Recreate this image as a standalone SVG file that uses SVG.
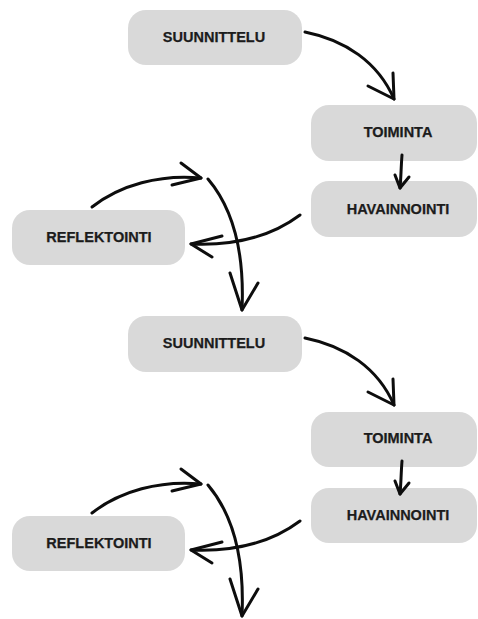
<svg xmlns="http://www.w3.org/2000/svg" width="478" height="619" viewBox="0 0 478 619">
<style>
.box{fill:#d9d9d9}
.lbl{font-family:"Liberation Sans",Arial,sans-serif;font-weight:bold;font-size:14.5px;fill:#1c1c1c;stroke:#1c1c1c;stroke-width:0.25;text-anchor:middle}
.arr{fill:none;stroke:#0d0d0d;stroke-width:3;stroke-linecap:round;stroke-linejoin:round}
</style>
<rect width="478" height="619" fill="#fff"/>
<g id="suunnittelu1"><rect class="box" x="128" y="10" width="174" height="55" rx="18"/><text class="lbl" x="214" y="42">SUUNNITTELU</text></g>
<g id="toiminta1"><rect class="box" x="311" y="105" width="166" height="56" rx="18"/><text class="lbl" x="398" y="137">TOIMINTA</text></g>
<g id="havainnointi1"><rect class="box" x="311" y="181" width="166" height="56" rx="18"/><text class="lbl" x="398" y="214">HAVAINNOINTI</text></g>
<g id="reflektointi1"><rect class="box" x="12" y="210" width="173" height="55" rx="18"/><text class="lbl" x="99" y="242">REFLEKTOINTI</text></g>
<g id="suunnittelu2"><rect class="box" x="128" y="316" width="174" height="56" rx="18"/><text class="lbl" x="214" y="348">SUUNNITTELU</text></g>
<g id="toiminta2"><rect class="box" x="311" y="412" width="166" height="55" rx="18"/><text class="lbl" x="398" y="443">TOIMINTA</text></g>
<g id="havainnointi2"><rect class="box" x="311" y="488" width="166" height="55" rx="18"/><text class="lbl" x="398" y="520">HAVAINNOINTI</text></g>
<g id="reflektointi2"><rect class="box" x="12" y="516" width="173" height="55" rx="18"/><text class="lbl" x="99" y="548">REFLEKTOINTI</text></g>
<g id="connectors" class="arr">
<g id="set1">
<path d="M305,32 C345,40 378,62 394,99"/><path d="M368,86 L394,99 L393,73"/>
<path d="M402,155 C401,168 401,178 400,188"/><path d="M395,175 L400,188 L409,177"/>
<path d="M92,207 C120,185 160,174 201,178"/><path d="M181,163 L201,178 L172,185"/>
<path d="M300,215 C272,236 236,246 191,244"/><path d="M222,236 L191,244 L212,257"/>
<path d="M208,179 C230,205 245,245 242,310"/><path d="M230,273 L242,310 L258,283"/>
</g>
<g id="set2" transform="translate(0,306)">
<path d="M305,32 C345,40 378,62 394,99"/><path d="M368,86 L394,99 L393,73"/>
<path d="M402,155 C401,168 401,178 400,188"/><path d="M395,175 L400,188 L409,177"/>
<path d="M92,207 C120,185 160,174 201,178"/><path d="M181,163 L201,178 L172,185"/>
<path d="M300,215 C272,236 236,246 191,244"/><path d="M222,236 L191,244 L212,257"/>
<path d="M208,179 C230,205 245,245 242,310"/><path d="M230,273 L242,310 L258,283"/>
</g>
</g>
</svg>
